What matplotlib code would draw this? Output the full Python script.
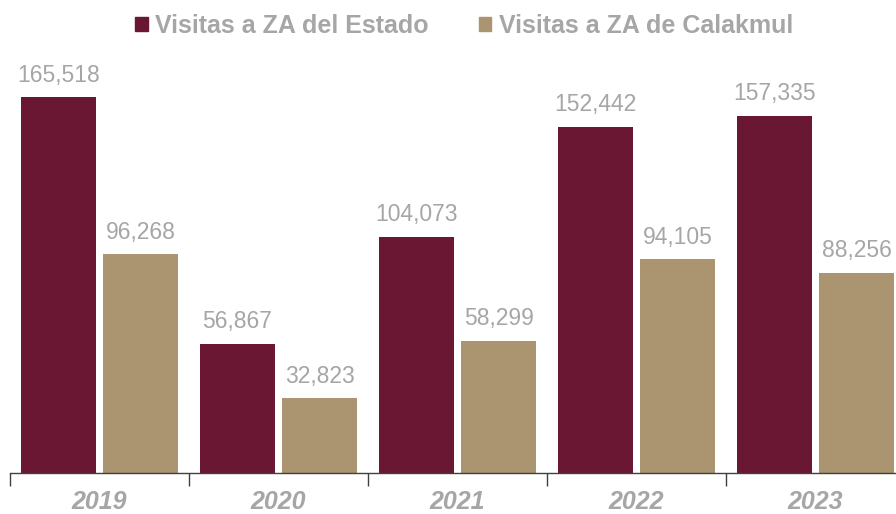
import numpy as np
import matplotlib.pyplot as plt
from matplotlib.patches import Patch

plt.rcParams['font.family'] = ['Liberation Sans', 'DejaVu Sans']

# datos
years = ['2019', '2020', '2021', '2022', '2023']
estado = [165518, 56867, 104073, 152442, 157335]
calakmul = [96268, 32823, 58299, 94105, 88256]

maroon = '#6A1734'
tan = '#AB9470'
gray = '#A6A6A6'

fig = plt.figure(figsize=(8.96, 5.14), dpi=100)
ax = fig.add_axes([10 / 896, 41 / 514, 895 / 896, 423 / 514])

x = np.arange(len(years))
w = 0.42
b1 = ax.bar(x - 0.23, estado, w, color=maroon)
b2 = ax.bar(x + 0.23, calakmul, w, color=tan)

# etiquetas de valor sobre cada barra
for bars, vals in [(b1, estado), (b2, calakmul)]:
    for rect, v in zip(bars, vals):
        ax.annotate(f'{v:,}', (rect.get_x() + rect.get_width() / 2, v),
                    xytext=(0, 7.5), textcoords='offset points',
                    ha='center', va='bottom', fontsize=16.5, color=gray)

ax.set_xlim(-0.5, 4.5)
ax.set_ylim(0, 186200)
ax.set_yticks([])
for s in ['top', 'right', 'left']:
    ax.spines[s].set_visible(False)
ax.spines['bottom'].set_color('#404040')
ax.spines['bottom'].set_linewidth(1.0)

ax.set_xticks(x)
ax.set_xticklabels(years, fontsize=18, fontweight='bold', fontstyle='italic', color=gray)
ax.tick_params(axis='x', which='major', length=0, pad=12)
ax.set_xticks(np.arange(-0.5, 5, 1), minor=True)
ax.tick_params(axis='x', which='minor', length=9, width=1, color='#404040')

handles = [Patch(color=maroon, label='Visitas a ZA del Estado'),
           Patch(color=tan, label='Visitas a ZA de Calakmul')]
leg = fig.legend(handles=handles, loc='center', bbox_to_anchor=(0.518, 0.949), ncol=2,
                 frameon=False, handlelength=0.5, handleheight=0.5, handletextpad=0.3,
                 columnspacing=2.0, prop={'size': 18, 'weight': 'bold'})
for t in leg.get_texts():
    t.set_color(gray)

fig.savefig('out.png', dpi=100)
